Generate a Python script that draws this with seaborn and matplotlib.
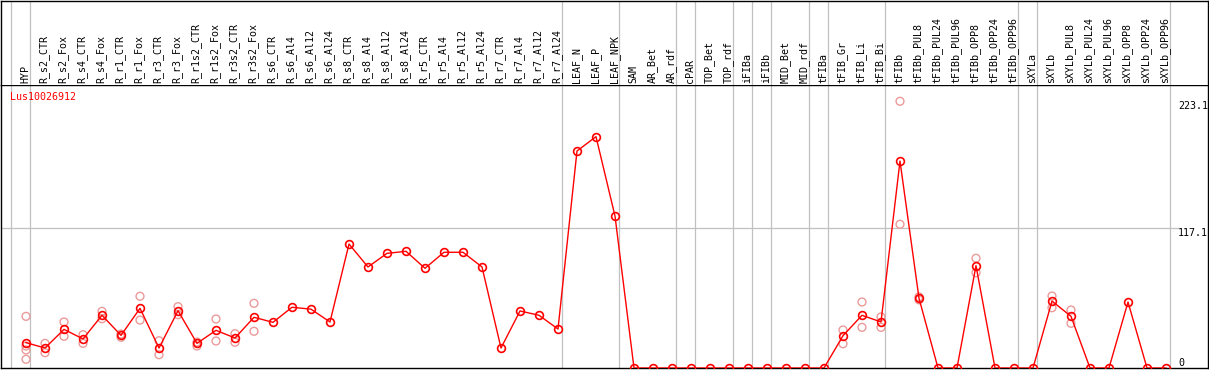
import pandas as pd
import matplotlib.pyplot as plt
import seaborn as sns

gene = "Lus10026912"

labels = ["HYP", "R_s2_CTR", "R_s2_Fox", "R_s4_CTR", "R_s4_Fox", "R_r1_CTR", "R_r1_Fox",
          "R_r3_CTR", "R_r3_Fox", "R_r1s2_CTR", "R_r1s2_Fox", "R_r3s2_CTR", "R_r3s2_Fox",
          "R_s6_CTR", "R_s6_Al4", "R_s6_Al12", "R_s6_Al24", "R_s8_CTR", "R_s8_Al4",
          "R_s8_Al12", "R_s8_Al24", "R_r5_CTR", "R_r5_Al4", "R_r5_Al12", "R_r5_Al24",
          "R_r7_CTR", "R_r7_Al4", "R_r7_Al12", "R_r7_Al24", "LEAF_N", "LEAF_P", "LEAF_NPK",
          "SAM", "AR_Bet", "AR_rdf", "cPAR", "TOP_Bet", "TOP_rdf", "iFIBa", "iFIBb",
          "MID_Bet", "MID_rdf", "tFIBa", "tFIB_Gr", "tFIB_Li", "tFIB_Bi", "tFIBb",
          "tFIBb_PUL8", "tFIBb_PUL24", "tFIBb_PUL96", "tFIBb_OPP8", "tFIBb_OPP24",
          "tFIBb_OPP96", "sXYLa", "sXYLb", "sXYLb_PUL8", "sXYLb_PUL24", "sXYLb_PUL96",
          "sXYLb_OPP8", "sXYLb_OPP24", "sXYLb_OPP96"]

means = [21.2, 16.7, 32.3, 24.3, 44.1, 27.3, 49.9, 16.7, 47.9, 20.6, 31.5, 25.1, 42.4,
         38.2, 50.8, 49.2, 38.5, 103.7, 84.5, 95.9, 97.6, 83.4, 96.8, 96.8, 84.5,
         16.7, 47.7, 44.1, 32.6, 181.5, 193.5, 127.1,
         0, 0, 0, 0, 0, 0, 0, 0, 0, 0, 0, 27.0, 44.1, 38.5, 173.1,
         58.3, 0, 0, 85.6, 0, 0, 0, 56.0, 43.2, 0, 0, 55.2, 0, 0]

# replicate values per sample (index into labels)
reps = {
    0: [43.2, 18.4, 15.1, 7.3],
    1: [20.6, 12.8],
    2: [38.5, 26.5],
    3: [27.9, 20.6],
    4: [47.4, 41.2],
    5: [28.4, 25.7],
    6: [60.0, 40.1],
    7: [22.8, 11.1],
    8: [51.3, 44.6],
    9: [21.7, 18.4],
    10: [41.0, 22.6],
    11: [28.7, 21.5],
    12: [54.1, 30.7],
    43: [31.8, 20.3],
    44: [55.2, 34.0],
    45: [42.7, 34.0],
    46: [223.1, 120.2],
    47: [59.5, 57.0],
    50: [91.8, 79.7],
    54: [60.2, 50.4],
    55: [48.5, 37.4],
}

# last sample index of each group (vertical separators)
group_ends = [-1, 0, 28, 31, 34, 35, 37, 38, 39, 41, 42, 45, 52, 53, 60]

yticks = [0, 117.1, 223.1]

df = pd.DataFrame({"pos": range(len(labels)), "label": labels, "value": means})
rep_rows = [(i, v) for i, vals in reps.items() for v in vals]
rdf = pd.DataFrame(rep_rows, columns=["pos", "value"])

W, H = 1209, 370
fig = plt.figure(figsize=(W / 100, H / 100), dpi=100)
mono = "DejaVu Sans Mono"
fs = 7.2

x0 = (0.5 - 26) / 19
x1 = (1207.5 - 26) / 19
ymax = 117.1 * (368 - 85) / (368 - 228)

ax = fig.add_axes([0.5 / W, 2 / H, 1207 / W, 283 / H])
hx = fig.add_axes([0.5 / W, 285 / H, 1207 / W, 84.5 / H])

grey = "#c0c0c0"
for a in (ax, hx):
    a.set_xlim(x0, x1)
    for g in group_ends:
        a.axvline(g + 0.2, color=grey, lw=0.9, zorder=0)
    a.set_xticks([])
    a.set_yticks([])
    for s in a.spines.values():
        s.set_color("black")
        s.set_linewidth(1.0)

hx.set_ylim(0, 1)
hx.spines["bottom"].set_visible(False)
for i, lab in enumerate(labels):
    hx.text(i - 0.05, 0.02, lab, rotation=90, ha="center", va="bottom",
            fontsize=fs, family=mono, color="black")

ax.set_ylim(0, ymax)
ax.axhline(117.1, xmin=0, xmax=(1178 - 0.5) / 1207, color=grey, lw=0.9, zorder=0)

sns.scatterplot(data=rdf, x="pos", y="value", ax=ax, marker="o", s=32,
                facecolors="none", edgecolor="#eb9a9a", linewidth=1.0, zorder=2)
sns.lineplot(data=df, x="pos", y="value", ax=ax, color="red", linewidth=1.0,
             marker="o", markersize=5.6, markerfacecolor="none",
             markeredgecolor="red", markeredgewidth=1.2, zorder=3)
ax.set_xlabel("")
ax.set_ylabel("")
ax.set_xlim(x0, x1)
ax.set_ylim(0, ymax)

tx = (1178 - 0.5) / 1207
tr = ax.get_yaxis_transform()
ax.text(tx, yticks[0], "0", transform=tr, ha="left", va="bottom", fontsize=fs, family=mono)
ax.text(tx, yticks[1], "117.1", transform=tr, ha="left", va="top", fontsize=fs, family=mono)
ax.text(tx, yticks[2], "223.1", transform=tr, ha="left", va="top", fontsize=fs, family=mono)

ax.text((9.5) / 1207, (368 - 97) / 283, gene, transform=ax.transAxes, ha="left",
        va="center", fontsize=fs, family=mono, color="red")

fig.savefig("out.png", dpi=100)
